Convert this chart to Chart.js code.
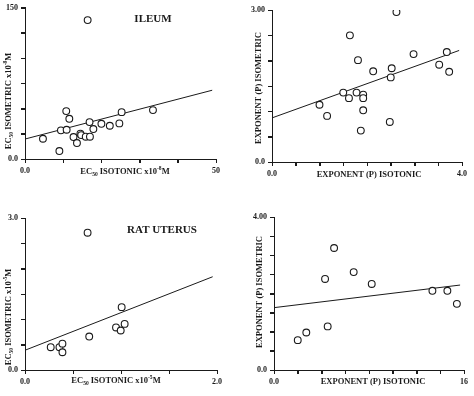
<!DOCTYPE html>
<html>
<head>
<meta charset="utf-8">
<script src="https://cdn.jsdelivr.net/npm/chart.js@4.4.0/dist/chart.umd.min.js"></script>
<style>
  body { margin: 0; background: #fff; }
  #wrap { position: relative; width: 474px; height: 396px; }
  .cell { position: absolute; width: 237px; height: 198px; }
</style>
</head>
<body>
<div id="wrap">
  <div class="cell" style="left:0;top:0"><canvas id="c1" width="237" height="198"></canvas></div>
  <div class="cell" style="left:237px;top:0"><canvas id="c2" width="237" height="198"></canvas></div>
  <div class="cell" style="left:0;top:198px"><canvas id="c3" width="237" height="198"></canvas></div>
  <div class="cell" style="left:237px;top:198px"><canvas id="c4" width="237" height="198"></canvas></div>
</div>
<script>
// ileum EC50 (x10^-8 M)
const ileumIsotonic  = [16.4, 4.7, 9.0, 9.4, 10.8, 10.9, 11.6, 12.7, 13.6, 14.5, 14.7, 15.9, 17.0, 16.9, 17.9, 20.0, 22.2, 24.7, 25.3, 33.5];
const ileumIsometric = [137.8, 20.1, 7.9, 28.4, 47.5, 29.0, 39.9, 21.8, 15.8, 25.1, 23.7, 22.1, 22.1, 36.6, 29.7, 34.9, 33.0, 35.3, 46.5, 48.5];
const ileumFit = [19.8, 0.988];      // intercept, slope
const ileumFitRange = [0, 49];

// ileum exponent P
const ileumPIsotonic  = [2.62, 1.64, 1.81, 2.98, 3.68, 3.52, 3.73, 2.13, 2.52, 2.50, 1.50, 1.78, 1.62, 1.92, 1.92, 1.00, 1.92, 1.16, 2.48, 1.87];
const ileumPIsometric = [2.96, 2.50, 2.01, 2.13, 2.17, 1.92, 1.78, 1.79, 1.85, 1.67, 1.37, 1.37, 1.26, 1.33, 1.26, 1.13, 1.02, 0.91, 0.79, 0.62];
const ileumPFit = [0.87, 0.338];
const ileumPFitRange = [0, 3.94];

// rat uterus EC50 (x10^-5 M)
const uterusIsotonic  = [0.652, 1.007, 1.038, 0.948, 0.997, 0.669, 0.268, 0.359, 0.390, 0.390];
const uterusIsometric = [2.71, 1.24, 0.91, 0.84, 0.78, 0.66, 0.45, 0.45, 0.52, 0.35];
const uterusFit = [0.39, 0.742];
const uterusFitRange = [0, 1.955];

// rat uterus exponent P
const uterusPIsotonic  = [2.0, 2.72, 4.3, 4.52, 5.06, 6.71, 8.23, 13.34, 14.6, 15.4];
const uterusPIsometric = [0.78, 0.98, 2.38, 1.14, 3.19, 2.56, 2.25, 2.07, 2.07, 1.73];
const uterusPFit = [1.63, 0.0377];
const uterusPFitRange = [0, 15.67];

// axis end labels [min, max]
const ileumXLabels = ['0.0', '50'],  ileumYLabels = ['0.0', '150'];
const ileumPXLabels = ['0.0', '4.0'], ileumPYLabels = ['0.0', '3.00'];
const uterusXLabels = ['0.0', '2.0'], uterusYLabels = ['0.0', '3.0'];
const uterusPXLabels = ['0.0', '16'], uterusPYLabels = ['0.0', '4.00'];

const SERIF = '"Liberation Serif", "DejaVu Serif", serif';
const INK = '#1a1a1a';

function pts(xs, ys) { return xs.map((x, i) => ({ x: x, y: ys[i] })); }
function fitLine(fit, range) { return range.map(x => ({ x: x, y: fit[0] + fit[1] * x })); }

// text pieces with sub/superscripts
function richWidth(ctx, parts, size) {
  let w = 0;
  parts.forEach(p => {
    ctx.font = 'bold ' + (p.s ? size * 0.65 : size) + 'px ' + SERIF;
    w += ctx.measureText(p.t).width;
  });
  return w;
}
function drawRich(ctx, parts, cx, cy, size) {
  let x = cx - richWidth(ctx, parts, size) / 2;
  ctx.textBaseline = 'middle';
  ctx.textAlign = 'left';
  parts.forEach(p => {
    const sz = p.s ? size * 0.65 : size;
    ctx.font = 'bold ' + sz + 'px ' + SERIF;
    let dy = 0;
    if (p.s === 'sub') dy = size * 0.3;
    if (p.s === 'sup') dy = -size * 0.35;
    ctx.fillText(p.t, x, cy + dy);
    x += ctx.measureText(p.t).width;
  });
}

const labelsPlugin = {
  id: 'panelText',
  afterDraw(chart) {
    const o = chart.options.plugins.panelText;
    const ctx = chart.ctx;
    const xs = chart.scales.x, ys = chart.scales.y;
    ctx.save();
    // outward tick marks
    ctx.strokeStyle = INK;
    ctx.lineWidth = 1;
    ctx.beginPath();
    xs.ticks.forEach(t => {
      const px = Math.round(xs.getPixelForValue(t.value)) + 0.5;
      ctx.moveTo(px, xs.top); ctx.lineTo(px, xs.top + 4);
    });
    ys.ticks.forEach(t => {
      const py = Math.round(ys.getPixelForValue(t.value)) + 0.5;
      ctx.moveTo(ys.right - 4, py); ctx.lineTo(ys.right, py);
    });
    ctx.stroke();

    ctx.fillStyle = INK;
    drawRich(ctx, o.xTitle, o.xPos[0], o.xPos[1], 8.5);
    ctx.save();
    ctx.translate(o.yPos[0], o.yPos[1]);
    ctx.rotate(-Math.PI / 2);
    drawRich(ctx, o.yTitle, 0, 0, 8.5);
    ctx.restore();
    if (o.title) {
      ctx.font = 'bold 11px ' + SERIF;
      ctx.textAlign = 'center';
      ctx.textBaseline = 'middle';
      ctx.fillText(o.title, o.titlePos[0], o.titlePos[1]);
    }
    ctx.restore();
  }
};

function axis(min, max, step, ends, size) {
  return {
    type: 'linear', min: min, max: max,
    afterFit(s) { if (s.isHorizontal()) s.height = size; else s.width = size; },
    border: { display: true, color: INK, width: 1 },
    grid: { display: true, drawOnChartArea: false, drawTicks: true, tickLength: 4,
            color: INK, tickColor: INK, tickWidth: 1 },
    ticks: {
      stepSize: step, padding: 3, color: INK, autoSkip: false, maxRotation: 0,
      font: { family: SERIF, size: 8, weight: 'bold' },
      callback: (v, i, t) => i === 0 ? ends[0] : (i === t.length - 1 ? ends[1] : '')
    }
  };
}

function makePanel(id, p) {
  new Chart(document.getElementById(id), {
    type: 'scatter',
    data: {
      datasets: [
        {
          data: pts(p.xs, p.ys),
          pointRadius: 3.4, pointBorderWidth: 1.1,
          pointBackgroundColor: '#fff', pointBorderColor: INK
        },
        {
          type: 'line',
          data: fitLine(p.fit, p.range),
          borderColor: INK, borderWidth: 1, pointRadius: 0, fill: false
        }
      ]
    },
    options: {
      responsive: false, animation: false,
      layout: { padding: { left: 0, top: p.top, right: p.right, bottom: 0 } },
      scales: {
        x: axis(p.xr[0], p.xr[1], p.xr[2], p.xl, p.xh),
        y: axis(p.yr[0], p.yr[1], p.yr[2], p.yl, p.yw)
      },
      plugins: {
        legend: { display: false },
        tooltip: { enabled: false },
        panelText: p.text
      }
    },
    plugins: [labelsPlugin]
  });
}

const ec = (kind, exp) => [
  { t: 'EC' }, { t: '50', s: 'sub' }, { t: ' ' + kind + ' x10' }, { t: exp, s: 'sup' }, { t: 'M' }
];

makePanel('c1', {
  xs: ileumIsotonic, ys: ileumIsometric, fit: ileumFit, range: ileumFitRange,
  xr: [0, 50, 10], yr: [0, 150, 25], xl: ileumXLabels, yl: ileumYLabels,
  top: 7, right: 21, xh: 39, yw: 25,
  text: { xTitle: ec('ISOTONIC', '-8'), xPos: [125, 172], yTitle: ec('ISOMETRIC', '-8'), yPos: [9, 101],
          title: 'ILEUM', titlePos: [153, 19] }
});
makePanel('c2', {
  xs: ileumPIsotonic, ys: ileumPIsometric, fit: ileumPFit, range: ileumPFitRange,
  xr: [0, 4, 0.5], yr: [0, 3, 0.5], xl: ileumPXLabels, yl: ileumPYLabels,
  top: 10, right: 12, xh: 36, yw: 35,
  text: { xTitle: [{ t: 'EXPONENT (P) ISOTONIC' }], xPos: [132, 175],
          yTitle: [{ t: 'EXPONENT (P) ISOMETRIC' }], yPos: [22, 88] }
});
makePanel('c3', {
  xs: uterusIsotonic, ys: uterusIsometric, fit: uterusFit, range: uterusFitRange,
  xr: [0, 2, 0.5], yr: [0, 3, 0.5], xl: uterusXLabels, yl: uterusYLabels,
  top: 20, right: 20, xh: 26, yw: 25,
  text: { xTitle: ec('ISOTONIC', '-5'), xPos: [116, 183], yTitle: ec('ISOMETRIC', '-5'), yPos: [9, 119],
          title: 'RAT UTERUS', titlePos: [162, 32] }
});
makePanel('c4', {
  xs: uterusPIsotonic, ys: uterusPIsometric, fit: uterusPFit, range: uterusPFitRange,
  xr: [0, 16, 2], yr: [0, 4, 0.5], xl: uterusPXLabels, yl: uterusPYLabels,
  top: 19, right: 10, xh: 26, yw: 37,
  text: { xTitle: [{ t: 'EXPONENT (P) ISOTONIC' }], xPos: [136, 184],
          yTitle: [{ t: 'EXPONENT (P) ISOMETRIC' }], yPos: [23, 94] }
});
</script>
</body>
</html>
